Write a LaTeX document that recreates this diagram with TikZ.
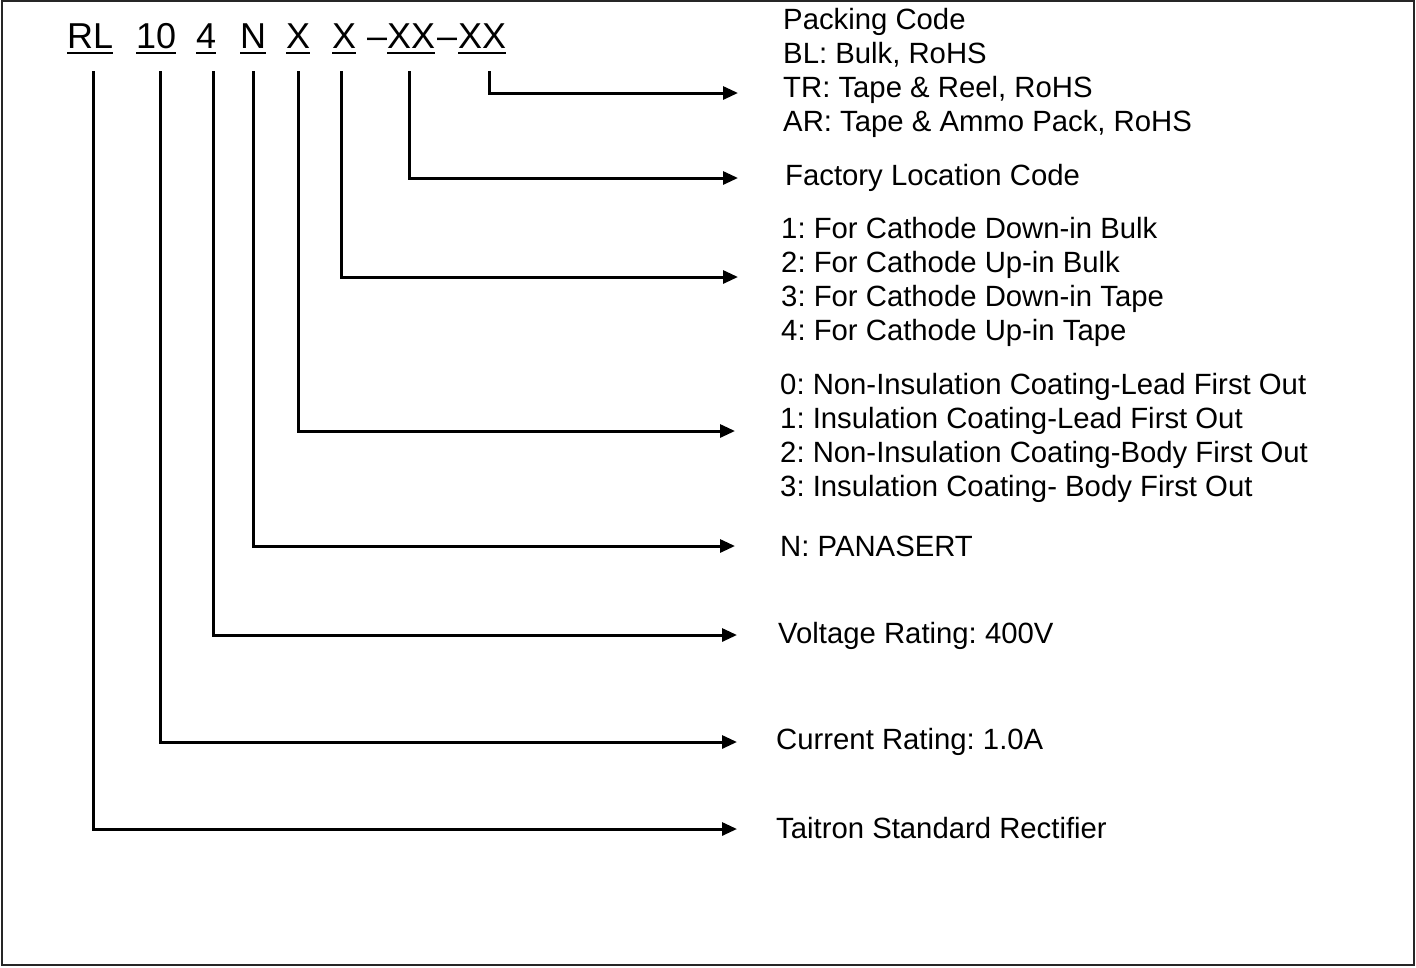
\documentclass[tikz,border=0pt]{standalone}
\usepackage{fontspec}
\setmainfont{Liberation Sans}
\usetikzlibrary{positioning, calc, arrows.meta}

\tikzset{
    code/.style={anchor=base west, inner sep=0pt, text depth=0pt, font=\fontsize{36}{42}\selectfont},
    desc/.style={anchor=west, inner sep=0pt, align=left, font=\fontsize{29.3}{34}\selectfont\frenchspacing},
    uline/.style={line width=2.5pt},
    arr/.style={line width=3pt, -{Triangle[length=15pt, width=13pt]}}
}

\begin{document}
\begin{tikzpicture}[x=1pt, y=-1pt]

    \useasboundingbox (0,0) rectangle (1416,967);

    % ================= Frame =================
    \draw[black!85, line width=2pt] (2,1) rectangle (1414,965);

    % ================= Part number =================
    \node[code] (rl) at (67,48) {RL};
    \node[code] (cur) at (136,48) {10};
    \node[code] (volt) at (196,48) {4};
    \node[code] (pan) at (240,48) {N};
    \node[code] (coat) at (286,48) {X};
    \node[code] (cath) at (332,48) {X};
    \node[code] (dasha) at (367,48) {--};
    \node[code] (fact) at (387,48) {XX};
    \node[code] (dashb) at (437,48) {--};
    \node[code] (pack) at (458,48) {XX};

    % Underlines
    \foreach \n in {rl, cur, volt, pan, coat, cath, fact, pack}
        \draw[uline] ([yshift=-5pt]\n.south west) -- ([yshift=-5pt]\n.south east);

    % ================= Descriptions =================
    \node[desc] (d-pack) at (783,73) {Packing Code\\BL: Bulk, RoHS\\TR: Tape \& Reel, RoHS\\AR: Tape \& Ammo Pack, RoHS};
    \node[desc] (d-fact) at (785,178) {Factory Location Code};
    \node[desc] (d-cath) at (781,282) {1: For Cathode Down-in Bulk\\2: For Cathode Up-in Bulk\\3: For Cathode Down-in Tape\\4: For Cathode Up-in Tape};
    \node[desc] (d-coat) at (780,438) {0: Non-Insulation Coating-Lead First Out\\1: Insulation Coating-Lead First Out\\2: Non-Insulation Coating-Body First Out\\3: Insulation Coating- Body First Out};
    \node[desc] (d-pan) at (780,546) {N: PANASERT};
    \node[desc] (d-volt) at (778,636) {Voltage Rating: 400V};
    \node[desc] (d-cur) at (776,742) {Current Rating: 1.0A};
    \node[desc] (d-rl) at (776,828) {Taitron Standard Rectifier};

    % Arrow tips
    \coordinate (t-pack) at (738,93);
    \coordinate (t-fact) at (738,178);
    \coordinate (t-cath) at (738,277);
    \coordinate (t-coat) at (735,431);
    \coordinate (t-pan) at (735,546);
    \coordinate (t-volt) at (737,635);
    \coordinate (t-cur) at (737,742);
    \coordinate (t-rl) at (737,829);

    % ================= Connectors =================
    \draw[arr] ([xshift=7pt, yshift=-23pt]pack.south) |- (t-pack);
    \draw[arr] ([xshift=-2pt, yshift=-23pt]fact.south) |- (t-fact);
    \draw[arr] ([xshift=-3pt, yshift=-23pt]cath.south) |- (t-cath);
    \draw[arr] ([yshift=-23pt]coat.south) |- (t-coat);
    \draw[arr] ([yshift=-23pt]pan.south) |- (t-pan);
    \draw[arr] ([xshift=7pt, yshift=-23pt]volt.south) |- (t-volt);
    \draw[arr] ([xshift=4.5pt, yshift=-23pt]cur.south) |- (t-cur);
    \draw[arr] ([xshift=3.5pt, yshift=-23pt]rl.south) |- (t-rl);

\end{tikzpicture}
\end{document}
